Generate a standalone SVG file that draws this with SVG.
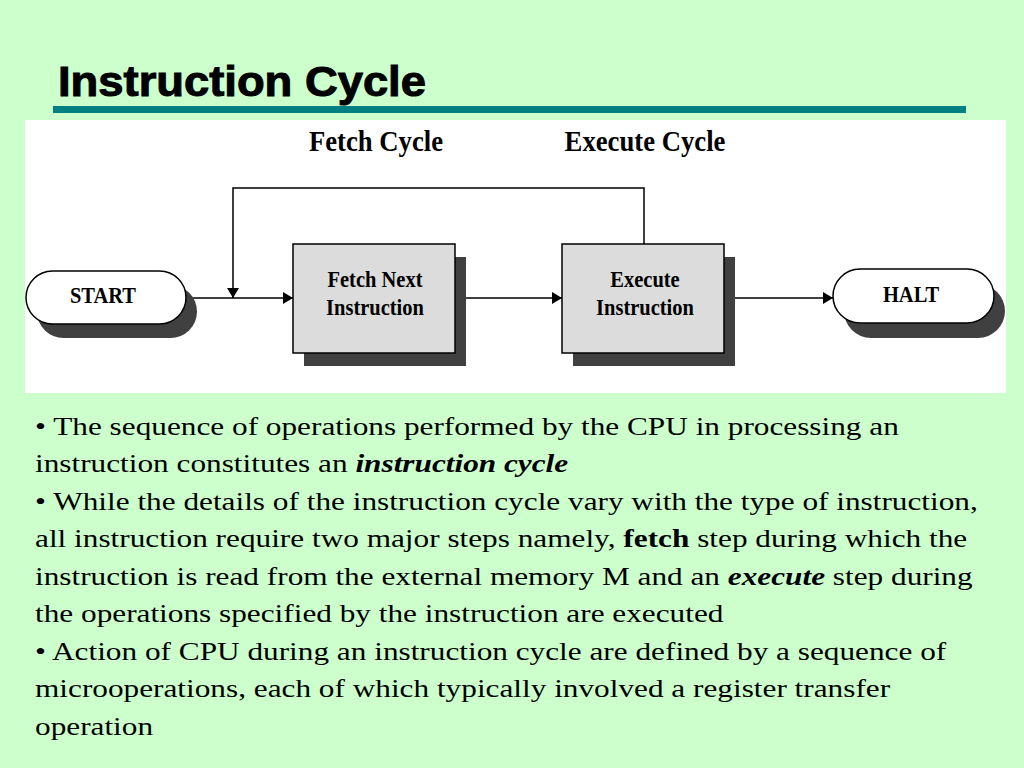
<svg xmlns="http://www.w3.org/2000/svg" width="1024" height="768" viewBox="0 0 1024 768">
  <style>
    .lbl { font-family: "Liberation Serif", "Times New Roman", serif; font-weight: bold; fill: #000; text-anchor: middle; }
    .node { font-size: 20.5px; }
    .cyc { font-size: 26.7px; }
    .body { font-family: "Liberation Serif", "Times New Roman", serif; font-size: 24.5px; fill: #000; }
    .b { font-weight: bold; }
    .bi { font-weight: bold; font-style: italic; }
    .shadow { fill: #404040; }
    .box { fill: #dcdcdc; stroke: #000; stroke-width: 1.5; }
    .pill { fill: #fff; stroke: #000; stroke-width: 1.5; }
    .conn { fill: none; stroke: #000; stroke-width: 1.5; }
  </style>
  <defs>
    <marker id="arrow" markerUnits="userSpaceOnUse" viewBox="0 0 10 12" refX="10" refY="6" markerWidth="10" markerHeight="12" orient="auto">
      <path d="M0,0 L10,6 L0,12 z" fill="#000"/>
    </marker>
  </defs>

  <rect x="0" y="0" width="1024" height="768" fill="#ccffcc"/>

  <g id="title">
    <text transform="translate(58,96) scale(1.08,1)" x="0" y="0" font-family="'Liberation Sans', Arial, sans-serif" font-weight="bold" font-size="42" fill="#000" stroke="#000" stroke-width="1">Instruction Cycle</text>
    <rect x="53" y="106" width="913" height="7" fill="#008080"/>
  </g>

  <rect id="panel" x="25" y="120" width="981" height="273" fill="#fff"/>

  <g id="cycle-labels">
    <text class="lbl cyc" transform="translate(376,150.5) scale(1,1.12)">Fetch Cycle</text>
    <text class="lbl cyc" transform="translate(645,150.5) scale(1,1.12)">Execute Cycle</text>
  </g>

  <g id="connectors">
    <line class="conn" x1="186" y1="298" x2="293" y2="298" marker-end="url(#arrow)"/>
    <line class="conn" x1="455" y1="298" x2="562" y2="298" marker-end="url(#arrow)"/>
    <line class="conn" x1="724" y1="298" x2="833" y2="298" marker-end="url(#arrow)"/>
    <polyline class="conn" points="644,244 644,188 233,188 233,298" marker-end="url(#arrow)"/>
  </g>

  <g id="start">
    <rect class="shadow" x="37" y="285" width="160" height="53" rx="26.5"/>
    <rect class="pill" x="26" y="271" width="160" height="53" rx="26.5"/>
    <text class="lbl node" transform="translate(103,303) scale(1,1.1)">START</text>
  </g>

  <g id="fetch">
    <rect class="shadow" x="304" y="257" width="162" height="109"/>
    <rect class="box" x="293" y="244" width="162" height="109"/>
    <text class="lbl node" transform="translate(375,287) scale(1,1.1)">Fetch Next</text>
    <text class="lbl node" transform="translate(375,315) scale(1,1.1)">Instruction</text>
  </g>

  <g id="execute">
    <rect class="shadow" x="573" y="257" width="162" height="109"/>
    <rect class="box" x="562" y="244" width="162" height="109"/>
    <text class="lbl node" transform="translate(645,287) scale(1,1.1)">Execute</text>
    <text class="lbl node" transform="translate(645,315) scale(1,1.1)">Instruction</text>
  </g>

  <g id="halt">
    <rect class="shadow" x="844" y="284" width="161" height="54" rx="27"/>
    <rect class="pill" x="833" y="269" width="161" height="54" rx="27"/>
    <text class="lbl node" transform="translate(911,302) scale(1,1.1)">HALT</text>
  </g>

  <g id="body-text" transform="translate(35,0) scale(1.277,1)">
    <text class="body" x="0" y="435">• The sequence of operations performed by the CPU in processing an</text>
    <text class="body" x="0" y="472.5">instruction constitutes an <tspan class="bi">instruction cycle</tspan></text>
    <text class="body" x="0" y="510">• While the details of the instruction cycle vary with the type of instruction,</text>
    <text class="body" x="0" y="547.5">all instruction require two major steps namely, <tspan class="b">fetch</tspan> step during which the</text>
    <text class="body" x="0" y="585">instruction is read from the external memory M and an <tspan class="bi">execute</tspan> step during</text>
    <text class="body" x="0" y="622.5">the operations specified by the instruction are executed</text>
    <text class="body" x="0" y="660">• Action of CPU during an instruction cycle are defined by a sequence of</text>
    <text class="body" x="0" y="697.5">microoperations, each of which typically involved a register transfer</text>
    <text class="body" x="0" y="735">operation</text>
  </g>
</svg>
